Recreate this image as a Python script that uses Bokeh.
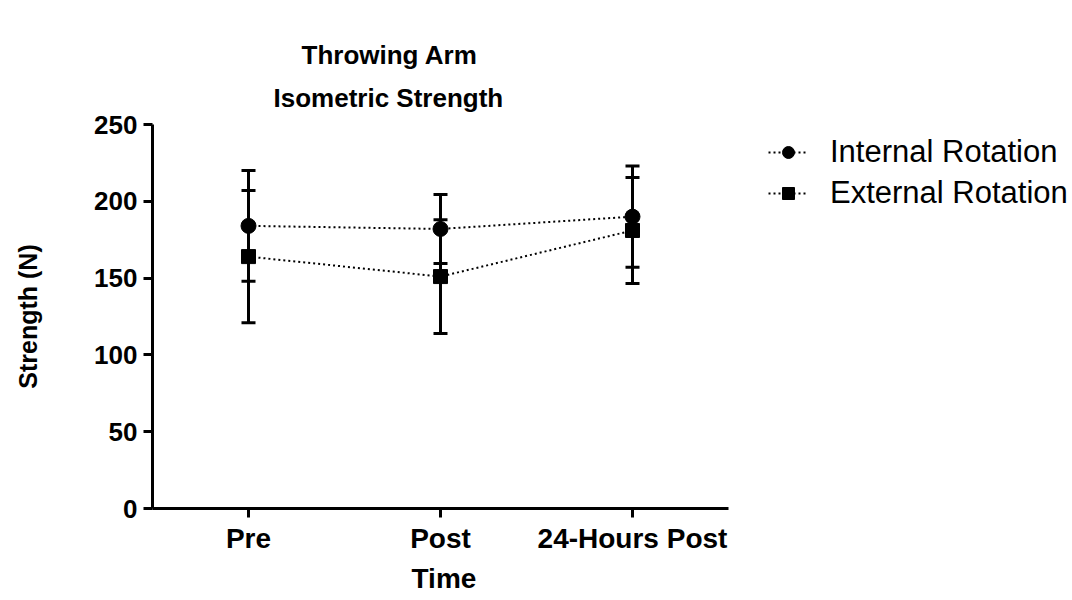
from bokeh.plotting import figure
from bokeh.models import (ColumnDataSource, Whisker, TeeHead, Legend, LegendItem,
                          Range1d, FixedTicker, Title)
from bokeh.embed import file_html
from bokeh.resources import INLINE

# ---- data ----
times = ["Pre", "Post", "24-Hours Post"]
internal_mean = [184, 182, 190]
internal_sd = [36, 22.5, 33]
external_mean = [164, 151, 181]
external_sd = [43, 37, 34.5]
y_ticks = [0, 50, 100, 150, 200, 250]

FONT = "Liberation Sans"

# layout constants (pixels)
LEFT, RIGHT, TOP, BOTTOM = 152, 0, 124, 92
W, H = 1072, 600
AXIS_END = 728                       # right end of the x axis line
unit = (AXIS_END - LEFT) / len(times)  # px per category
x_max = -0.5 + (W - LEFT - RIGHT) / unit
xs = list(range(len(times)))

def make_source(mean, sd):
    return ColumnDataSource(dict(
        x=xs, y=mean,
        upper=[m + s for m, s in zip(mean, sd)],
        lower=[m - s for m, s in zip(mean, sd)],
    ))

src_int = make_source(internal_mean, internal_sd)
src_ext = make_source(external_mean, external_sd)

p = figure(width=W, height=H, x_range=Range1d(-0.5, x_max), y_range=Range1d(0, 250),
           output_backend="svg", toolbar_location=None,
           min_border_left=LEFT, min_border_right=RIGHT, min_border_top=TOP,
           min_border_bottom=BOTTOM)
p.outline_line_color = None
p.grid.visible = False
p.background_fill_color = "white"
p.border_fill_color = "white"

def title(text, size, offset, standoff):
    return Title(text=text, align="left", offset=offset, standoff=standoff,
                 text_font=FONT, text_font_size=size, text_font_style="bold",
                 text_color="black")

p.add_layout(title("Isometric Strength", "26px", 121, 23), "above")
p.add_layout(title("Throwing Arm", "26px", 149, 0), "above")

# error bars
for src in (src_int, src_ext):
    w = Whisker(source=src, base="x", upper="upper", lower="lower",
                line_width=3, line_color="black",
                upper_head=TeeHead(size=14, line_width=3, line_color="black"),
                lower_head=TeeHead(size=14, line_width=3, line_color="black"))
    p.add_layout(w)

l1 = p.line("x", "y", source=src_int, line_dash="2 3", line_width=2, line_color="black")
m1 = p.scatter("x", "y", source=src_int, marker="circle", size=15, color="black")
l2 = p.line("x", "y", source=src_ext, line_dash="2 3", line_width=2, line_color="black")
m2 = p.scatter("x", "y", source=src_ext, marker="square", size=14, color="black")

# axes
for ax in (p.xaxis[0], p.yaxis[0]):
    ax.axis_line_width = 3
    ax.major_tick_line_width = 3
    ax.major_tick_out = 9
    ax.major_tick_in = 0
    ax.minor_tick_line_color = None
    ax.major_label_text_font = FONT
    ax.major_label_text_font_style = "bold"
    ax.major_label_text_color = "black"
    ax.axis_label_text_font = FONT
    ax.axis_label_text_font_style = "bold"
    ax.axis_label_text_color = "black"

p.yaxis[0].ticker = FixedTicker(ticks=y_ticks)
p.yaxis[0].major_label_text_font_size = "26px"
p.yaxis[0].axis_label = "Strength (N)"
p.yaxis[0].axis_label_text_font_size = "25px"
p.yaxis[0].major_label_standoff = 6
p.yaxis[0].axis_label_standoff = 49

p.xaxis[0].bounds = (-0.5, len(times) - 0.5)
p.xaxis[0].ticker = FixedTicker(ticks=xs)
p.xaxis[0].major_label_overrides = {i: t for i, t in zip(xs, times)}
p.xaxis[0].major_label_text_font_size = "28px"
p.xaxis[0].major_label_standoff = 5

# x axis title, placed under the category axis
p.add_layout(title("Time", "28px", 259, 8), "below")

legend = Legend(items=[LegendItem(label="Internal Rotation", renderers=[l1, m1]),
                       LegendItem(label="External Rotation", renderers=[l2, m2])],
                location=(768 - LEFT, 297), orientation="vertical",
                border_line_color=None, background_fill_alpha=0,
                padding=0, margin=0, glyph_width=40, glyph_height=30,
                label_standoff=22, spacing=5,
                label_text_font=FONT, label_text_font_size="31px",
                label_text_color="black")
p.add_layout(legend)

open("out.html", "w").write(file_html(p, INLINE))
